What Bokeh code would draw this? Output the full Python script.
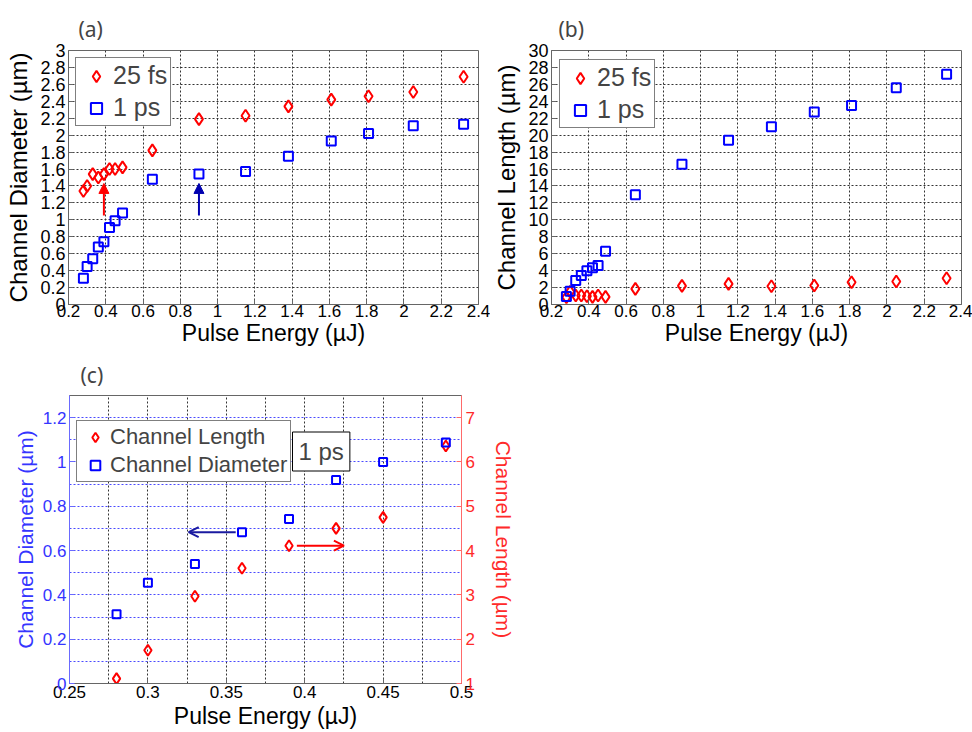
from bokeh.plotting import figure
from bokeh.layouts import column, row
from bokeh.models import (Range1d, LinearAxis, FixedTicker, CustomJSTickFormatter,
                          Legend, LegendItem, Label, Arrow, NormalHead, OpenHead)
from bokeh.embed import file_html
from bokeh.resources import INLINE

# ---------------- data ----------------
energy = [0.28, 0.30, 0.33, 0.36, 0.39, 0.42, 0.45, 0.49,
          0.65, 0.90, 1.15, 1.38, 1.61, 1.81, 2.05, 2.32]
diameter_25fs = [1.34, 1.40, 1.54, 1.50, 1.54, 1.60, 1.60, 1.62,
                 1.82, 2.19, 2.23, 2.34, 2.42, 2.46, 2.51, 2.69]
diameter_1ps = [0.31, 0.45, 0.54, 0.68, 0.74, 0.91, 0.99, 1.08,
                1.48, 1.54, 1.57, 1.75, 1.93, 2.02, 2.11, 2.13]
length_25fs = [0.86, 1.50, 1.06, 1.06, 0.98, 0.90, 1.06, 0.90,
               1.85, 2.20, 2.44, 2.16, 2.24, 2.63, 2.72, 3.10]
length_1ps = [0.94, 1.57, 2.83, 3.42, 4.00, 4.33, 4.60, 6.30,
              12.95, 16.56, 19.40, 20.98, 22.75, 23.50, 25.60, 27.20]

c_energy = [0.28, 0.30, 0.33, 0.36, 0.39, 0.42, 0.45, 0.49]
c_diameter = [0.313, 0.455, 0.539, 0.683, 0.743, 0.919, 1.00, 1.088]
c_length = [1.11, 1.75, 2.97, 3.60, 4.11, 4.50, 4.75, 6.36]

# arrows (data coordinates of the pointers)
arrow_a_red = dict(x=0.39, y0=1.05, y1=1.43)
arrow_a_blue = dict(x=0.90, y0=1.05, y1=1.43)
arrow_c_blue = dict(y=0.683, x0=0.356, x1=0.326)
arrow_c_red = dict(y=4.11, x0=0.395, x1=0.425)

# ticks
ab_xticks = [0.2, 0.4, 0.6, 0.8, 1.0, 1.2, 1.4, 1.6, 1.8, 2.0, 2.2, 2.4]
a_yticks = [0, 0.2, 0.4, 0.6, 0.8, 1.0, 1.2, 1.4, 1.6, 1.8, 2.0, 2.2, 2.4, 2.6, 2.8, 3.0]
b_yticks = [0, 2, 4, 6, 8, 10, 12, 14, 16, 18, 20, 22, 24, 26, 28, 30]
c_xticks = [0.25, 0.3, 0.35, 0.4, 0.45, 0.5]
c_xgrid = [0.25, 0.275, 0.3, 0.325, 0.35, 0.375, 0.4, 0.425, 0.45, 0.475, 0.5]
c_yticks = [0, 0.2, 0.4, 0.6, 0.8, 1.0, 1.2]
c_ygrid = [0.1, 0.2, 0.3, 0.4, 0.5, 0.6, 0.7, 0.8, 0.9, 1.0, 1.1, 1.2]
c_y2ticks = [1, 2, 3, 4, 5, 6, 7]

FONT = "Liberation Sans"
PFONT = "Noto Sans"
RED = "#ff0000"
BLUE = "#0000ff"
FRAME = "#666666"
fmt = CustomJSTickFormatter(code="return String(Math.round(tick*1000)/1000);")


def style_axis(ax, tick_size="17px", label_size="23px", color="black", line=FRAME,
               tstand=0, lstand=0):
    ax.major_label_text_font = FONT
    ax.major_label_text_font_size = tick_size
    ax.major_label_text_color = color
    ax.axis_label_text_font = FONT
    ax.axis_label_text_font_size = label_size
    ax.axis_label_text_font_style = "normal"
    ax.axis_label_text_color = color
    ax.major_tick_in = 5
    ax.major_tick_out = 0
    ax.minor_tick_line_color = None
    ax.axis_line_color = line
    ax.major_tick_line_color = line
    ax.major_label_standoff = tstand
    ax.axis_label_standoff = lstand
    ax.formatter = fmt


def make_fig(xr, yr, fw, fh, ml, mr, mt, mb, title, toff, tstand):
    p = figure(frame_width=fw, frame_height=fh, x_range=xr, y_range=yr,
               output_backend="svg", toolbar_location=None,
               min_border_left=ml, min_border_right=mr,
               min_border_top=mt, min_border_bottom=mb, title=title)
    p.outline_line_color = FRAME
    p.outline_line_width = 1
    p.background_fill_color = "white"
    p.border_fill_color = "white"
    p.title.text_font = PFONT
    p.title.text_font_size = "21px"
    p.title.text_font_style = "normal"
    p.title.align = "left"
    p.title.offset = toff
    p.title.standoff = tstand
    return p


def legend(p, items, loc, size="25px", gw=34, rowh=28, spacing=3, padding=3):
    leg = Legend(items=items, location=loc)
    leg.label_text_font = FONT
    leg.label_text_font_size = size
    leg.glyph_width = gw
    leg.glyph_height = rowh
    leg.label_height = rowh
    leg.spacing = spacing
    leg.padding = padding
    leg.margin = 0
    leg.label_standoff = 0
    leg.border_line_color = "black"
    leg.border_line_width = 1
    leg.background_fill_alpha = 1
    p.add_layout(leg)


# ---------------- panel (a) ----------------
pa = make_fig(Range1d(0.2, 2.4), Range1d(0, 3), 410, 254, 68, 12, 50, 48, "(a)", 10, 16)
pa.xaxis.ticker = FixedTicker(ticks=ab_xticks)
pa.yaxis.ticker = FixedTicker(ticks=a_yticks)
pa.xaxis.axis_label = "Pulse Energy (µJ)"
pa.yaxis.axis_label = "Channel Diameter (µm)"
style_axis(pa.xaxis[0])
style_axis(pa.yaxis[0], tick_size="18px", label_size="24px", tstand=3, lstand=5)
pa.grid.grid_line_color = "#333333"
pa.grid.grid_line_dash = "2 2"
ra1 = pa.scatter(energy, diameter_25fs, marker="diamond", size=12, fill_color=None,
                 line_color=RED, line_width=2)
ra2 = pa.scatter(energy, diameter_1ps, marker="square", size=9, fill_color=None,
                 line_color=BLUE, line_width=2)
pa.add_layout(Arrow(end=NormalHead(size=10, fill_color=RED, line_color=RED),
                    x_start=arrow_a_red["x"], y_start=arrow_a_red["y0"],
                    x_end=arrow_a_red["x"], y_end=arrow_a_red["y1"],
                    line_color=RED, line_width=2))
pa.add_layout(Arrow(end=NormalHead(size=10, fill_color="#0000b0", line_color="#0000b0"),
                    x_start=arrow_a_blue["x"], y_start=arrow_a_blue["y0"],
                    x_end=arrow_a_blue["x"], y_end=arrow_a_blue["y1"],
                    line_color="#0000b0", line_width=2))
legend(pa, [LegendItem(label="25 fs", renderers=[ra1]),
            LegendItem(label="1 ps", renderers=[ra2])], (7, 178))

# ---------------- panel (b) ----------------
pb = make_fig(Range1d(0.2, 2.4), Range1d(0, 30), 410, 254, 59, 11, 50, 48, "(b)", 7, 16)
pb.xaxis.ticker = FixedTicker(ticks=ab_xticks)
pb.yaxis.ticker = FixedTicker(ticks=b_yticks)
pb.xaxis.axis_label = "Pulse Energy (µJ)"
pb.yaxis.axis_label = "Channel Length (µm)"
style_axis(pb.xaxis[0])
style_axis(pb.yaxis[0], tick_size="18px", label_size="24px", tstand=3, lstand=5)
pb.grid.grid_line_color = "#333333"
pb.grid.grid_line_dash = "2 2"
rb1 = pb.scatter(energy, length_25fs, marker="diamond", size=12, fill_color=None,
                 line_color=RED, line_width=2)
rb2 = pb.scatter(energy, length_1ps, marker="square", size=9, fill_color=None,
                 line_color=BLUE, line_width=2)
legend(pb, [LegendItem(label="25 fs", renderers=[rb1]),
            LegendItem(label="1 ps", renderers=[rb2])], (8, 176))

# ---------------- panel (c) ----------------
pc = make_fig(Range1d(0.25, 0.5), Range1d(0, 1.3), 392, 288, 69, 70, 42, 50, "(c)", 11, 13)
pc.extra_y_ranges = {"len": Range1d(1, 7.5)}
ax_r = LinearAxis(y_range_name="len", axis_label="Channel Length (µm)")
pc.add_layout(ax_r, "right")
pc.xaxis.ticker = FixedTicker(ticks=c_xticks)
pc.left[0].ticker = FixedTicker(ticks=c_yticks)
ax_r.ticker = FixedTicker(ticks=c_y2ticks)
pc.xaxis.axis_label = "Pulse Energy (µJ)"
pc.left[0].axis_label = "Channel Diameter (µm)"
style_axis(pc.xaxis[0], tick_size="17px", label_size="23px", tstand=2, lstand=2)
style_axis(pc.left[0], tick_size="17px", label_size="21px", color="#3535ff",
           line="#6a6aff", tstand=3, lstand=3)
style_axis(ax_r, tick_size="17px", label_size="21px", color="#ff2a2a",
           line="#ff6a6a", tstand=4, lstand=14)
pc.xgrid.ticker = FixedTicker(ticks=c_xgrid)
pc.xgrid.grid_line_color = "#333333"
pc.xgrid.grid_line_dash = "2 2"
pc.ygrid.ticker = FixedTicker(ticks=c_ygrid)
pc.ygrid.grid_line_color = "#4a4aff"
pc.ygrid.grid_line_dash = "2 2"
rc1 = pc.scatter(c_energy, c_length, y_range_name="len", marker="diamond", size=11,
                 fill_color=None, line_color=RED, line_width=2)
rc2 = pc.scatter(c_energy, c_diameter, marker="square", size=8, fill_color=None,
                 line_color=BLUE, line_width=2)
pc.add_layout(Arrow(end=OpenHead(size=10, line_color="#1a1aa0", line_width=2),
                    x_start=arrow_c_blue["x0"], y_start=arrow_c_blue["y"],
                    x_end=arrow_c_blue["x1"], y_end=arrow_c_blue["y"],
                    line_color="#1a1aa0", line_width=2))
pc.add_layout(Arrow(end=OpenHead(size=10, line_color=RED, line_width=2),
                    x_start=arrow_c_red["x0"], y_start=arrow_c_red["y"],
                    x_end=arrow_c_red["x1"], y_end=arrow_c_red["y"],
                    line_color=RED, line_width=2, y_range_name="len"))
legend(pc, [LegendItem(label="Channel Length", renderers=[rc1]),
            LegendItem(label="Channel Diameter", renderers=[rc2])], (7, 201),
       size="22px", gw=30, rowh=24, spacing=2, padding=3)
pc.add_layout(Label(x=223, y=232, x_units="screen", y_units="screen", text="1 ps",
                    text_font=FONT, text_font_size="24px", text_baseline="middle",
                    border_line_color="black", border_line_width=1,
                    background_fill_color="white", padding=6))

layout = column(row(pa, pb), pc)
open("out.html", "w").write(file_html(layout, INLINE))
